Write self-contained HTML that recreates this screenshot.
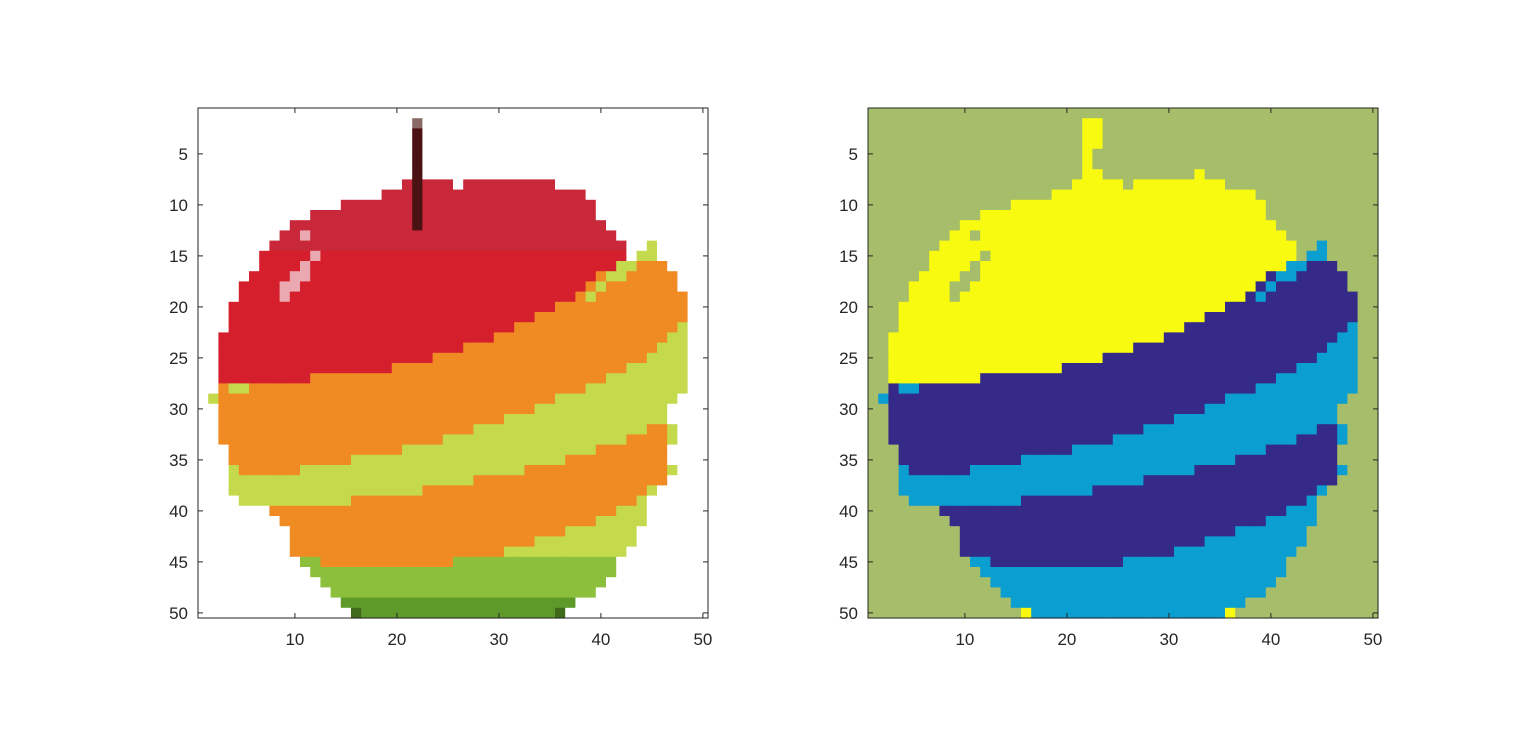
<!DOCTYPE html>
<html><head><meta charset="utf-8">
<style>
html,body{margin:0;padding:0;background:#fff;}
svg{display:block;font-family:"Liberation Sans",Arial,sans-serif;}
</style></head>
<body>
<svg id="fig" width="1522" height="752" viewBox="0 0 1522 752" xmlns="http://www.w3.org/2000/svg">
<rect width="1522" height="752" fill="#fff"/>
<g id="left"></g>
<g id="right"></g>
</svg>
<script>
// Cluster label map: each row = runs "code+lastColIndex" (0-based columns)
const rowRuns = [
"G49","G20 Y22 G49","G20 Y22 G49","G20 Y22 G49","G20 Y21 G49","G20 Y21 G49",
"G20 Y22 G31 Y32 G49","G19 Y24 G25 Y34 G49","G17 Y37 G49","G13 Y38 G49",
"G10 Y38 G49","G8 Y39 G49","G7 Y9 G10 Y40 G49","G6 Y41 G43 L44 G49",
"G5 Y10 G11 Y41 G42 L44 G49","G5 Y9 G10 Y40 L42 D45 G49",
"G4 Y8 G10 Y38 D39 L41 D46 G49","G3 Y7 G9 Y37 D38 L39 D46 G49",
"G3 Y7 G8 Y36 D37 L38 D47 G49","G2 Y34 D47 G49","G2 Y32 D47 G49",
"G2 Y30 D46 L47 G49","G1 Y28 D45 L47 G49","G1 Y25 D44 L47 G49",
"G1 Y22 D43 L47 G49","G1 Y18 D41 L47 G49","G1 Y10 D39 L47 G49",
"G1 D2 L4 D37 L47 G49","G0 L1 D34 L46 G49","G1 D32 L45 G49",
"G1 D29 L45 G49","G1 D26 L43 D45 L46 G49","G1 D23 L41 D45 L46 G49",
"G2 D19 L38 D45 G49","G2 D14 L35 D45 G49","G2 L3 D9 L31 D45 L46 G49",
"G2 L26 D45 G49","G2 L21 D43 L44 G49","G3 L14 D42 L43 G49",
"G6 D40 L43 G49","G7 D38 L43 G49","G8 D35 L42 G49","G8 D32 L42 G49",
"G8 D29 L41 G49","G9 L11 D24 L40 G49","G10 L40 G49","G11 L39 G49",
"G12 L38 G49","G13 L36 G49","G14 Y15 L34 Y35 G49"
];
const clusterColors = {G:"#a6bd6a", Y:"#f8fa0f", D:"#352a87", L:"#0b9ed0"};
const photoColors = {G:"#ffffff", Y:"#d61f2c", D:"#f08a22", L:"#c4da4c"};
const xTicks = [10,20,30,40,50];
const yTicks = [5,10,15,20,25,30,35,40,45,50];
const stemRows = [1,2,3,4,5,6,7,8,9,10,11];

const N = 50, TOP = 108, SIZE = 510, CELL = SIZE / N;
const NS = "http://www.w3.org/2000/svg";
function mk(tag, attrs){const e=document.createElementNS(NS,tag);for(const k in attrs)e.setAttribute(k,attrs[k]);return e;}

const grid = rowRuns.map(s => {
  const row = []; let c = 0;
  s.split(" ").forEach(run => { const code = run[0], end = +run.slice(1); while (c <= end) { row.push(code); c++; } });
  return row;
});

function xScale(left, v){ return left + (v - 0.5) * CELL; }
function yScale(v){ return TOP + (v - 0.5) * CELL; }

function drawAxes(g, left, colorFn){
  for (let r = 0; r < N; r++) for (let c = 0; c < N; c++) {
    const rect = mk("rect",{x:xScale(left,c+0.5).toFixed(2),y:yScale(r+0.5).toFixed(2),width:(CELL+0.6).toFixed(2),height:(CELL+0.6).toFixed(2),fill:colorFn(r,c)});
    
    
    g.appendChild(rect);
  }
  const box = mk("rect",{x:left,y:TOP,width:SIZE,height:SIZE,fill:"none",stroke:"#262626","stroke-width":1});
  
  
  g.appendChild(box);
  xTicks.forEach(t => {
    const x = xScale(left, t);
    g.appendChild(mk("line",{x1:x,x2:x,y1:TOP+SIZE,y2:TOP+SIZE-5,stroke:"#262626"}));
    g.appendChild(mk("line",{x1:x,x2:x,y1:TOP,y2:TOP+5,stroke:"#262626"}));
    const tx = mk("text",{x:x,y:645,"font-size":17,"text-anchor":"middle",fill:"#262626"});
    tx.textContent = t;
    
    
    g.appendChild(tx);
  });
  yTicks.forEach(t => {
    const y = yScale(t);
    g.appendChild(mk("line",{x1:left,x2:left+5,y1:y,y2:y,stroke:"#262626"}));
    g.appendChild(mk("line",{x1:left+SIZE,x2:left+SIZE-5,y1:y,y2:y,stroke:"#262626"}));
    const ty = mk("text",{x:left-10,y:y+6,"font-size":17,"text-anchor":"end",fill:"#262626"});
    ty.textContent = t;
    
    
    g.appendChild(ty);
  });
}

drawAxes(document.getElementById("left"), 198, (r,c) => {
  if (c === 21 && stemRows.includes(r)) return r < 2 ? "#8a6a66" : "#4a1212";
  const k = grid[r][c];
  if (k === "Y" && r < 7) return "#ffffff";
  if (k === "Y" && r >= 45) return "#3e6a1a";
  if (k === "G" && c > 3 && c < 45 && r > 10 && r < 45) {
    const row = grid[r];
    if (row.slice(0, c).includes("Y") && row.slice(c + 1).includes("Y")) return "#eaa8b0";
  }
  if (k === "L" && r >= 44) return r >= 48 ? "#5e9a2a" : "#8cc03c";
  if (k === "Y" && r < 14) return "#c8283a";
  return photoColors[k];
});
drawAxes(document.getElementById("right"), 868, (r,c) => clusterColors[grid[r][c]]);
</script>
</body></html>
